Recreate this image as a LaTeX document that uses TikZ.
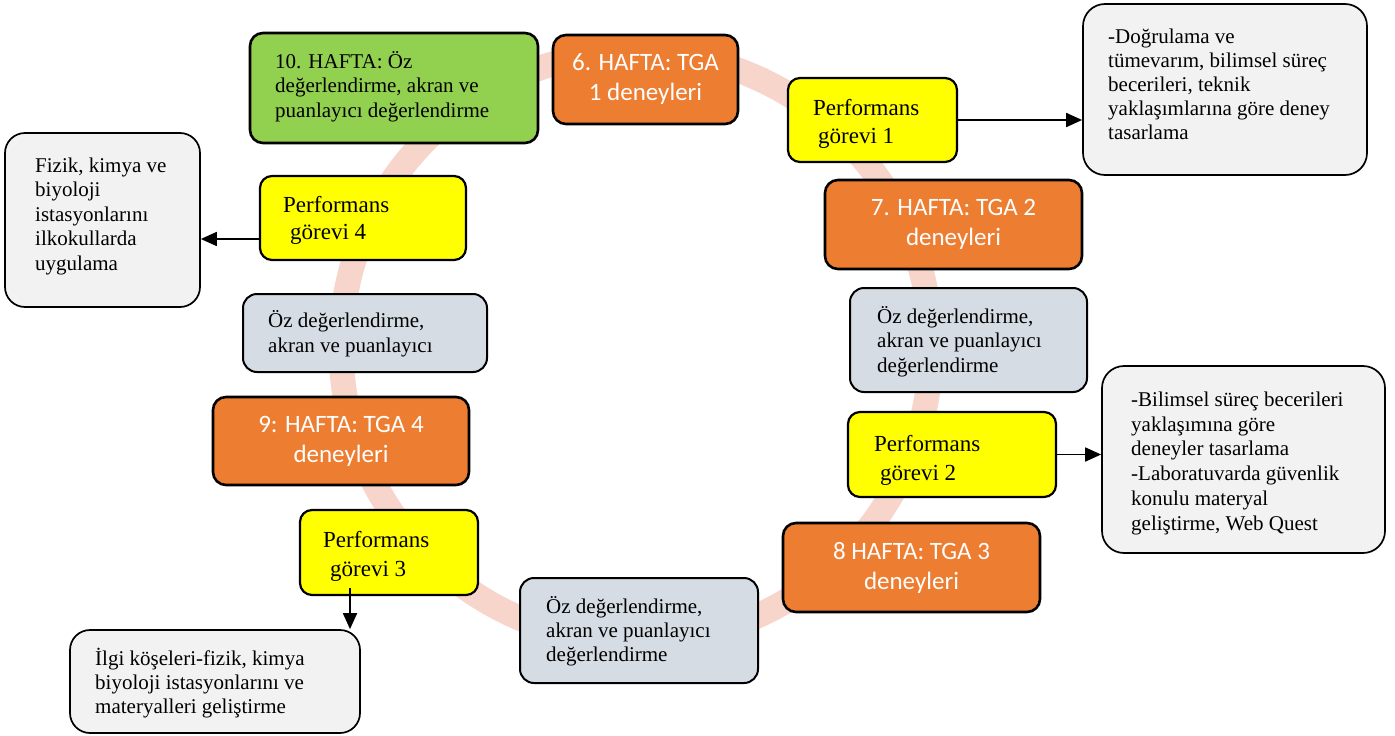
\documentclass[tikz,border=0pt]{standalone}
\usepackage{fontspec}
\setmainfont{Liberation Serif}
\newfontfamily\calibrifont{Carlito}
\usetikzlibrary{arrows.meta,calc}
\definecolor{ringc}{HTML}{F8D5CB}
\definecolor{greenc}{HTML}{92D050}
\definecolor{orangec}{HTML}{ED7D31}
\definecolor{yellowc}{HTML}{FFFF00}
\definecolor{greyc}{HTML}{F2F2F2}
\definecolor{bluec}{HTML}{D6DCE4}
\newcommand{\tst}{\rule{0pt}{20pt}}
\begin{document}
\begin{tikzpicture}[x=1pt,y=-1pt,
  box/.style={draw=black, line width=1.6pt, inner sep=0pt},
  weekbox/.style={box, fill=orangec, line width=2.6pt, rounded corners=13pt, text=white,
     align=center, font=\calibrifont\fontsize{25}{30}\selectfont},
  greenbox/.style={box, fill=greenc, line width=2.6pt, rounded corners=13pt},
  taskbox/.style={box, fill=yellowc, line width=2.2pt, rounded corners=12pt},
  evalbox/.style={box, fill=bluec, line width=2pt, rounded corners=14pt},
  notebox/.style={box, fill=greyc, line width=1.7pt, rounded corners=22pt},
  txt/.style={anchor=north west, inner sep=0pt, align=left, font=\fontsize{21}{24.5}\selectfont},
  ptxt/.style={anchor=north west, inner sep=0pt, align=left, font=\fontsize{23}{28}\selectfont},
  arr/.style={line width=1.8pt, -{Triangle[length=16pt,width=14pt]}}
]
\useasboundingbox (0,0) rectangle (1395,736);
\fill[white] (0,0) rectangle (1395,736);

% background ring
\draw[ringc, line width=25pt] (636,347) circle[radius=295];

% boxes
\node[greenbox, minimum width=288pt, minimum height=110pt] (w10) at (394,88) {};
\node[weekbox, minimum width=185pt, minimum height=89pt] (h6) at (645.5,79.5) {6. HAFTA: TGA\\1 deneyleri};
\node[taskbox, minimum width=169pt, minimum height=84pt] (p1) at (872.5,120) {};
\node[notebox, minimum width=284pt, minimum height=171pt] (g1) at (1225,89.5) {};
\node[notebox, rounded corners=20pt, minimum width=195pt, minimum height=174pt] (fz) at (102.5,220) {};
\node[taskbox, minimum width=206pt, minimum height=84pt] (p4) at (363,218) {};
\node[weekbox, minimum width=257pt, minimum height=89pt] (h7) at (953.5,224.5) {7. HAFTA: TGA 2\\deneyleri};
\node[evalbox, minimum width=244pt, minimum height=78pt] (oz1) at (365,333) {};
\node[evalbox, minimum width=237pt, minimum height=104pt] (oz2) at (968.5,340) {};
\node[notebox, minimum width=283pt, minimum height=187pt] (g2) at (1243.5,459.5) {};
\node[taskbox, minimum width=208pt, minimum height=85pt] (p2) at (952,454.5) {};
\node[weekbox, minimum width=256pt, minimum height=88pt] (h9) at (341,441) {9: HAFTA: TGA 4\\deneyleri};
\node[taskbox, minimum width=178pt, minimum height=85pt] (p3) at (389,552.5) {};
\node[weekbox, minimum width=257pt, minimum height=89pt] (h8) at (911.5,567.5) {8 HAFTA: TGA 3\\deneyleri};
\node[evalbox, minimum width=238pt, minimum height=105pt] (oz3) at (639,630.5) {};
\node[notebox, rounded corners=20pt, minimum width=290pt, minimum height=103pt] (il) at (215,681.5) {};

% texts
\node[txt] (tw10) at (275,48) {\tst 10. HAFTA: Öz\\değerlendirme, akran ve\\puanlayıcı değerlendirme};
\node[ptxt] (tp1) at (813,95) {\tst Performans\\\hspace*{5pt}görevi 1};
\node[txt, font=\fontsize{21}{24}\selectfont] (tg1) at (1108,23) {\tst -Doğrulama ve\\tümevarım, bilimsel süreç\\becerileri, teknik\\yaklaşımlarına göre deney\\tasarlama};
\node[txt] (tfz) at (35,152) {\tst Fizik, kimya ve\\biyoloji\\istasyonlarını\\ilkokullarda\\uygulama};
\node[ptxt, font=\fontsize{23}{27}\selectfont] (tp4) at (283,192) {\tst Performans\\\hspace*{7pt}görevi 4};
\node[txt, font=\fontsize{21}{25}\selectfont] (toz1) at (268,307) {\tst Öz değerlendirme,\\akran ve puanlayıcı};
\node[txt] (toz2) at (877,303) {\tst Öz değerlendirme,\\akran ve puanlayıcı\\değerlendirme};
\node[txt, font=\fontsize{21}{24.8}\selectfont] (tg2) at (1131,386) {\tst -Bilimsel süreç becerileri\\yaklaşımına göre\\deneyler tasarlama\\-Laboratuvarda güvenlik\\konulu materyal\\geliştirme, Web Quest};
\node[ptxt, font=\fontsize{23}{29}\selectfont] (tp2) at (874,431) {\tst Performans\\\hspace*{6pt}görevi 2};
\node[ptxt, font=\fontsize{23}{29}\selectfont] (tp3) at (323,527) {\tst Performans\\\hspace*{7pt}görevi 3};
\node[txt, font=\fontsize{21}{24}\selectfont] (toz3) at (546,593) {\tst Öz değerlendirme,\\akran ve puanlayıcı\\değerlendirme};
\node[txt, font=\fontsize{21}{24}\selectfont] (til) at (95,645) {\tst İlgi köşeleri-fizik, kimya\\biyoloji istasyonlarını ve\\materyalleri geliştirme};

% connectors
\draw[arr] (p1.east) -- (p1.east -| g1.west);
\coordinate (a4) at ($(p4.west)+(0,21)$);
\draw[arr] (a4) -- (a4 -| fz.east);
\draw[arr] (p2.east) -- (p2.east -| g2.west);
\coordinate (a3) at ($(p3.south)+(-39,-8)$);
\draw[arr] (a3) -- (a3 |- il.north);
\end{tikzpicture}
\end{document}
